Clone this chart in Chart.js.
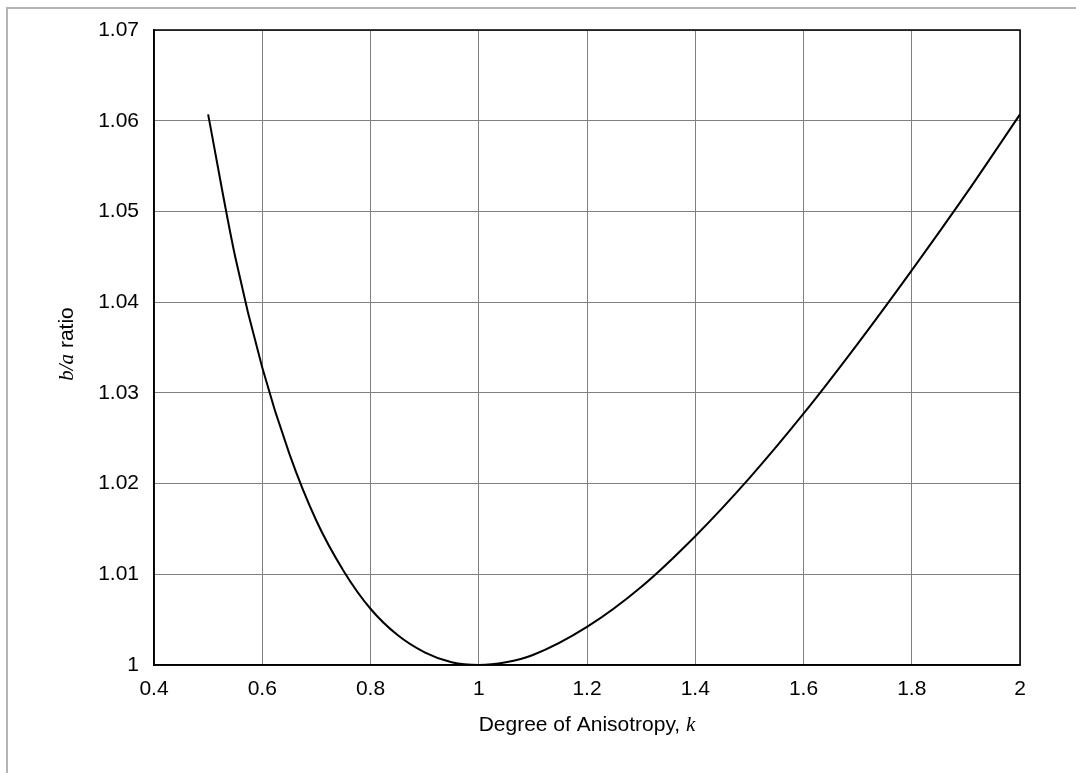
<!DOCTYPE html>
<html>
<head>
<meta charset="utf-8">
<script src="https://cdn.jsdelivr.net/npm/chart.js@4"></script>
<style>
  html, body { margin: 0; padding: 0; background: #fff; }
  #wrap { width: 1076px; height: 773px; position: relative; }
</style>
</head>
<body>
<div id="wrap"><canvas id="chart" width="1076" height="773"></canvas></div>
<script>
// degree of anisotropy k
const kValues = [0.5, 0.55, 0.6, 0.65, 0.7, 0.75, 0.8, 0.85, 0.9, 0.95, 1.0,
  1.05, 1.1, 1.2, 1.3, 1.4, 1.5, 1.6, 1.7, 1.8, 1.9, 2.0]
// b/a ratio
const ratioValues = [1.0607, 1.0450, 1.0328, 1.0233, 1.0159, 1.0104, 1.0062, 1.0033, 1.0014, 1.0003, 1.0000,
  1.0003, 1.0011, 1.0042, 1.0086, 1.0142, 1.0206, 1.0277, 1.0354, 1.0435, 1.0519, 1.0607]
const xTicks = [0.4, 0.6, 0.8, 1, 1.2, 1.4, 1.6, 1.8, 2]
const yTicks = [1, 1.01, 1.02, 1.03, 1.04, 1.05, 1.06, 1.07]

const sans = '"Liberation Sans", Arial, sans-serif'
const serif = '"Liberation Serif", "Times New Roman", serif'

const titles = {
  id: 'titles',
  beforeDraw(chart) {
    const ctx = chart.ctx
    ctx.save()
    ctx.strokeStyle = '#b4b4b4'
    ctx.lineWidth = 2
    ctx.beginPath()
    ctx.moveTo(1076, 8)
    ctx.lineTo(7, 8)
    ctx.lineTo(7, 773)
    ctx.stroke()
    ctx.restore()
  },
  afterDraw(chart) {
    const ctx = chart.ctx
    const area = chart.chartArea
    ctx.save()
    // plot frame
    ctx.strokeStyle = '#000'
    ctx.lineWidth = 1.5
    ctx.strokeRect(area.left, area.top, area.right - area.left, area.bottom - area.top)

    ctx.fillStyle = '#000'
    ctx.textBaseline = 'alphabetic'
    ctx.textAlign = 'left'

    // x title
    const a = 'Degree of Anisotropy, '
    ctx.font = '21px ' + sans
    const wa = ctx.measureText(a).width
    ctx.font = 'italic 21px ' + serif
    const wk = ctx.measureText('k').width
    let x0 = (area.left + area.right) / 2 - (wa + wk) / 2
    ctx.font = '21px ' + sans
    ctx.fillText(a, x0, 731)
    ctx.font = 'italic 21px ' + serif
    ctx.fillText('k', x0 + wa, 731)

    // y title
    ctx.translate(73, 344)
    ctx.rotate(-Math.PI / 2)
    ctx.font = 'italic 21px ' + serif
    const wb = ctx.measureText('b/a').width
    ctx.font = '21px ' + sans
    const wr = ctx.measureText(' ratio').width
    x0 = -(wb + wr) / 2
    ctx.font = 'italic 21px ' + serif
    ctx.fillText('b/a', x0, 0)
    ctx.font = '21px ' + sans
    ctx.fillText(' ratio', x0 + wb, 0)
    ctx.restore()
  }
}

new Chart(document.getElementById('chart'), {
  type: 'line',
  data: {
    datasets: [{
      data: kValues.map((k, i) => ({x: k, y: ratioValues[i]})),
      borderColor: '#000',
      borderWidth: 2,
      pointRadius: 0,
      fill: false,
      cubicInterpolationMode: 'monotone'
    }]
  },
  options: {
    responsive: false,
    animation: false,
    layout: {padding: {left: 0, right: 56, top: 30, bottom: 0}},
    plugins: {
      legend: {display: false},
      tooltip: {enabled: false}
    },
    scales: {
      x: {
        type: 'linear',
        min: 0.4,
        max: 2,
        afterFit: s => { s.height = 108 },
        afterBuildTicks: s => { s.ticks = xTicks.map(v => ({value: v})) },
        border: {display: true, color: '#000', width: 1.5},
        grid: {color: '#808080', lineWidth: 1, drawTicks: false},
        ticks: {
          color: '#000',
          padding: 12,
          font: {family: sans, size: 21},
          callback: v => String(+v.toFixed(1))
        }
      },
      y: {
        min: 1,
        max: 1.07,
        afterFit: s => { s.width = 154 },
        afterBuildTicks: s => { s.ticks = yTicks.map(v => ({value: v})) },
        border: {display: true, color: '#000', width: 1.5},
        grid: {color: '#808080', lineWidth: 1, drawTicks: false},
        ticks: {
          color: '#000',
          padding: 15,
          font: {family: sans, size: 21},
          callback: v => String(+v.toFixed(2))
        }
      }
    }
  },
  plugins: [titles]
})
</script>
</body>
</html>
